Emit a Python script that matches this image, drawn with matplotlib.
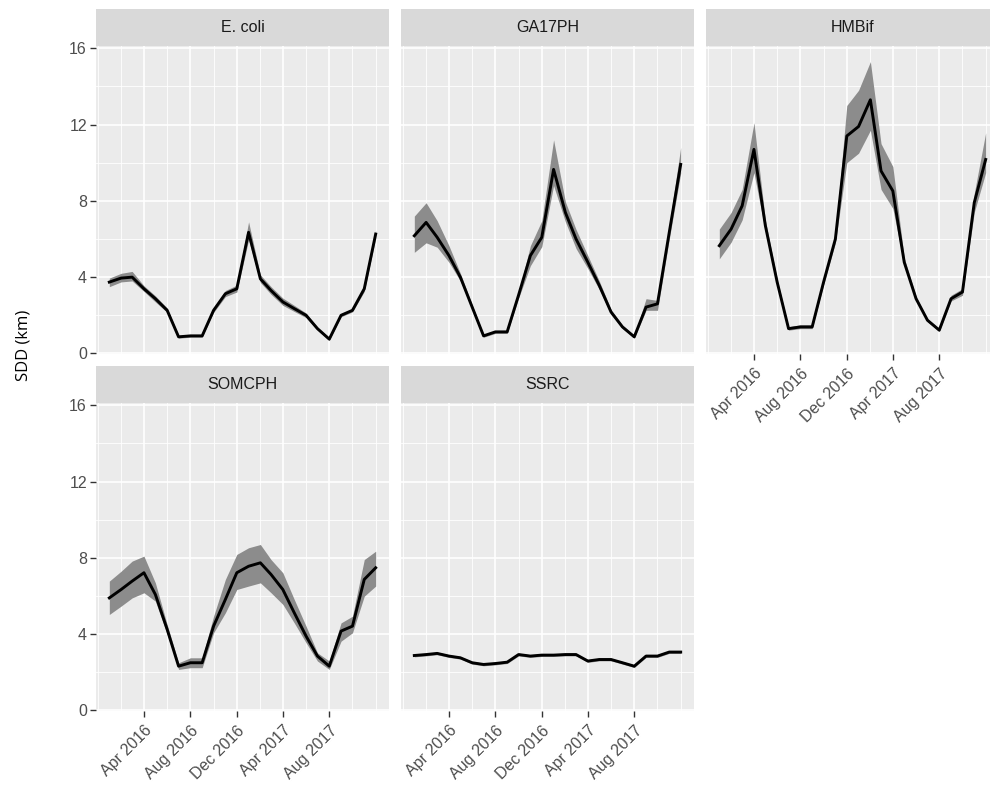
import matplotlib
matplotlib.use("Agg")
import matplotlib.pyplot as plt
import pandas as pd

# ---data (monthly, Jan 2016 - Dec 2017)---
dates = pd.date_range("2016-01-01", "2017-12-01", freq="MS")

ecoli_mid = [3.74, 3.95, 4.00, 3.39, 2.87, 2.26, 0.87, 0.92, 0.92, 2.26, 3.13, 3.39,
             6.35, 3.91, 3.30, 2.70, 2.35, 2.00, 1.30, 0.75, 2.00, 2.26, 3.39, 6.26]
ecoli_lo = [3.50, 3.75, 3.80, 3.25, 2.70, 2.15, 0.80, 0.85, 0.85, 2.15, 2.98, 3.22,
            5.95, 3.72, 3.10, 2.52, 2.20, 1.88, 1.22, 0.68, 1.92, 2.18, 3.25, 6.05]
ecoli_hi = [3.95, 4.20, 4.30, 3.55, 3.02, 2.38, 0.95, 1.00, 1.00, 2.38, 3.30, 3.58,
            6.90, 4.12, 3.50, 2.90, 2.52, 2.12, 1.38, 0.82, 2.08, 2.35, 3.55, 6.45]

ga_mid = [6.17, 6.87, 6.09, 5.13, 4.00, 2.43, 0.92, 1.13, 1.13, 3.06, 5.13, 6.09,
          9.65, 7.39, 6.00, 4.78, 3.57, 2.17, 1.39, 0.87, 2.43, 2.60, 6.35, 9.91]
ga_lo = [5.30, 5.80, 5.57, 4.78, 3.80, 2.35, 0.85, 1.05, 1.05, 2.90, 4.60, 5.60,
         8.80, 6.90, 5.50, 4.45, 3.35, 2.05, 1.30, 0.80, 2.26, 2.26, 6.00, 9.45]
ga_hi = [7.20, 7.90, 6.96, 5.65, 4.20, 2.55, 1.00, 1.20, 1.20, 3.20, 5.65, 6.96,
         11.20, 7.95, 6.50, 5.13, 3.80, 2.30, 1.48, 0.95, 2.87, 2.78, 6.75, 10.80]

hm_mid = [5.65, 6.52, 7.74, 10.70, 6.70, 3.74, 1.30, 1.39, 1.39, 3.74, 6.00, 11.40,
          11.90, 13.30, 9.57, 8.52, 4.78, 2.87, 1.74, 1.22, 2.87, 3.22, 7.91, 10.17]
hm_lo = [4.96, 5.83, 7.00, 9.48, 6.40, 3.60, 1.22, 1.30, 1.30, 3.60, 5.80, 10.00,
         10.50, 11.70, 8.60, 7.60, 4.60, 2.78, 1.66, 1.15, 2.75, 3.05, 7.40, 9.48]
hm_hi = [6.52, 7.39, 8.60, 12.10, 7.00, 3.90, 1.40, 1.50, 1.50, 3.90, 6.20, 13.00,
         13.80, 15.30, 11.00, 9.80, 5.00, 3.00, 1.82, 1.30, 3.05, 3.40, 8.40, 11.57]

som_mid = [5.90, 6.34, 6.78, 7.22, 6.08, 4.25, 2.32, 2.50, 2.50, 4.42, 5.82, 7.22,
           7.56, 7.74, 7.13, 6.34, 5.12, 3.90, 2.85, 2.32, 4.16, 4.42, 6.87, 7.48]
som_lo = [5.03, 5.47, 5.90, 6.17, 5.73, 4.00, 2.15, 2.24, 2.24, 4.07, 5.12, 6.34,
          6.52, 6.69, 6.17, 5.56, 4.59, 3.55, 2.59, 2.15, 3.63, 4.07, 5.99, 6.52]
som_hi = [6.78, 7.30, 7.83, 8.09, 6.69, 4.50, 2.50, 2.76, 2.76, 4.94, 6.87, 8.18,
          8.53, 8.70, 7.91, 7.22, 5.82, 4.42, 3.02, 2.59, 4.59, 4.94, 7.91, 8.35]

ssrc_mid = [2.88, 2.93, 2.99, 2.85, 2.76, 2.50, 2.41, 2.46, 2.53, 2.93, 2.85, 2.90,
            2.90, 2.93, 2.93, 2.59, 2.67, 2.67, 2.50, 2.32, 2.85, 2.85, 3.06, 3.06]
ssrc_lo = [v - 0.07 for v in ssrc_mid]
ssrc_hi = [v + 0.07 for v in ssrc_mid]

panels = [
    ("E. coli", ecoli_mid, ecoli_lo, ecoli_hi),
    ("GA17PH", ga_mid, ga_lo, ga_hi),
    ("HMBif", hm_mid, hm_lo, hm_hi),
    ("SOMCPH", som_mid, som_lo, som_hi),
    ("SSRC", ssrc_mid, ssrc_lo, ssrc_hi),
]

major_dates = pd.to_datetime(["2016-04-01", "2016-08-01", "2016-12-01", "2017-04-01", "2017-08-01"])
minor_dates = pd.to_datetime(["2015-12-01", "2016-02-01", "2016-06-01", "2016-10-01",
                              "2017-02-01", "2017-06-01", "2017-10-01", "2017-12-01"])
major_labels = ["Apr 2016", "Aug 2016", "Dec 2016", "Apr 2017", "Aug 2017"]
y_ticks = [0, 4, 8, 12, 16]

W, H = 990, 794
fig = plt.figure(figsize=(W / 100, H / 100), dpi=100)
fig.patch.set_facecolor("white")

col_left = [96, 401, 706]
pan_w = 293
rows = [(9, 46, 354), (366, 403, 711)]  # strip top, panel top, panel bottom

span = dates[-1] - dates[0]
xlim = (dates[0] - span * 0.05, dates[-1] + span * 0.05)

tick_font = "Liberation Sans"

for i, (name, mid, lo, hi) in enumerate(panels):
    r, c = divmod(i, 3)
    st, pt, pb = rows[r]
    x0 = col_left[c]
    ax = fig.add_axes([x0 / W, 1 - pb / H, pan_w / W, (pb - pt) / H])
    ax.set_facecolor("#EBEBEB")
    for s in ax.spines.values():
        s.set_visible(False)

    ax.fill_between(dates, lo, hi, color="#8c8c8c", lw=0, zorder=2)
    ax.plot(dates, mid, color="black", lw=2.1, zorder=3)

    ax.set_xlim(xlim)
    ax.set_ylim(-0.03, 16.12)
    ax.set_yticks(y_ticks)
    ax.set_yticks([2, 6, 10, 14], minor=True)
    ax.set_xticks(major_dates)
    ax.set_xticks(minor_dates, minor=True)
    ax.grid(which="major", color="white", lw=1.2, zorder=1)
    ax.grid(which="minor", color="white", lw=0.6, zorder=1)
    ax.set_axisbelow(True)
    ax.tick_params(which="minor", length=0)
    ax.tick_params(which="major", length=4.5, width=1, color="#333333",
                   labelcolor="#4D4D4D", labelsize=11.5)

    if c == 0:
        ax.set_yticklabels([str(v) for v in y_ticks], fontfamily=tick_font)
        ax.tick_params(axis="y", pad=2)
    else:
        ax.tick_params(axis="y", length=0, labelleft=False)

    show_x = (r == 1) or (c == 2)
    if show_x:
        ax.set_xticklabels(major_labels, rotation=45, ha="right", va="top",
                           rotation_mode="anchor", fontfamily=tick_font)
        ax.tick_params(axis="x", pad=4)
    else:
        ax.tick_params(axis="x", length=0, labelbottom=False)

    # facet strip
    sax = fig.add_axes([x0 / W, 1 - pt / H, pan_w / W, (pt - st) / H])
    sax.set_facecolor("#D9D9D9")
    sax.set_xticks([])
    sax.set_yticks([])
    for s in sax.spines.values():
        s.set_visible(False)
    sax.text(0.5, 0.5, name, ha="center", va="center", fontsize=11.5,
             color="#1A1A1A", fontfamily=tick_font, transform=sax.transAxes)

fig.text(24 / W, 1 - 345 / H, "SDD (km)", rotation=90, ha="center", va="center",
         fontsize=12, fontfamily="Open Sans", color="black")

fig.savefig("out.png", dpi=100)
